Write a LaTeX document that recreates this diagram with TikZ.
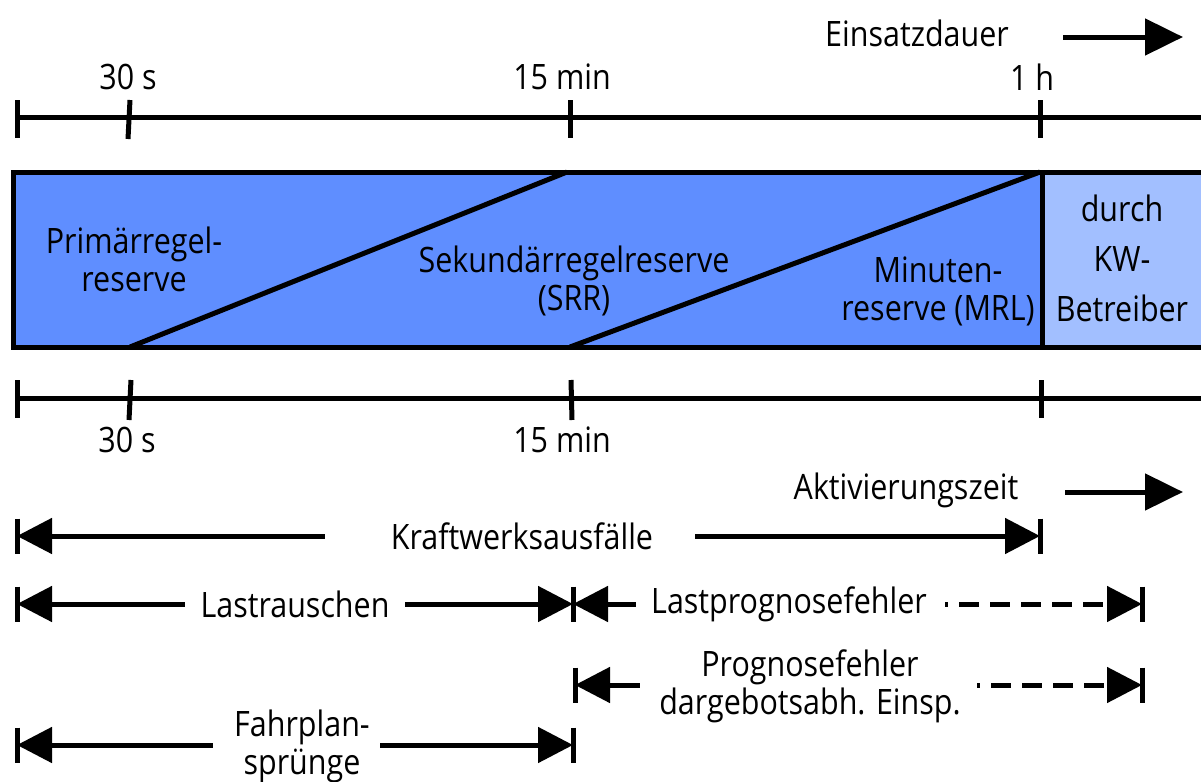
\documentclass[tikz,border=0pt]{standalone}
\usepackage{fontspec}
\setmainfont{Open Sans}[FakeStretch=0.87]
\usetikzlibrary{arrows.meta}
\definecolor{dblue}{HTML}{5F8EFF}
\definecolor{lblue}{HTML}{A2BFFF}
\begin{document}
\begin{tikzpicture}[x=0.5pt,y=-0.5pt,line width=2.5pt,line cap=butt,
  font=\fontsize{17.5pt}{19pt}\selectfont,
  lbl/.style={inner sep=0pt,align=center},
  tipr/.style={-{Triangle[length=17.5pt,width=17.5pt]}},
  tipl/.style={{Triangle[length=17.5pt,width=17.5pt]}-},
  bigtip/.style={-{Triangle[length=19pt,width=18pt]}},
  dashy/.style={dash pattern=on 10pt off 5.5pt,dash phase=8.5pt}]
\useasboundingbox (0,0) rectangle (1201,782);
% headline
\node[lbl] (einsatz) at (917,33) {Einsatzdauer};
\coordinate (e1) at (1063,37); \coordinate (e2) at (1183,37);
\draw[bigtip] (e1) -- (e2);
% top axis
\node[lbl] (t30) at (128,77) {30 s};
\node[lbl] (t15) at (562,77) {15 min};
\node[lbl] (t1h) at (1032,77) {1 h};
\draw (17,117) -- (1205,117);
\draw (17,100) -- (17,138);
\draw (130,100) -- (128,139);
\draw (570,100) -- (570,138);
\draw (1040,100) -- (1040,138);
% box
\fill[dblue] (13,172) rectangle (1042,347);
\fill[lblue] (1042,172) rectangle (1210,347);
\draw (1210,172) -- (13,172) -- (13,347) -- (1210,347);
\draw (1042,172) -- (1042,347);
\draw (130,347) -- (567,172);
\draw (570,347) -- (1040,172);
\node[lbl] (prr) at (134,259) {Primärregel-\\reserve};
\node[lbl] (srr) at (574,281) {Sekundärregelreserve\\(SRR)};
\node[lbl] (mrl) at (938,291) {Minuten-\\reserve (MRL)};
\node[lbl] (kw) at (1122,258) {durch\\[6pt]KW-\\[6pt]Betreiber};
% bottom axis
\draw (17,398) -- (1205,398);
\draw (17,380) -- (17,418);
\draw (131,380) -- (129,420);
\draw (571,380) -- (572,420);
\draw (1041,380) -- (1041,418);
\node[lbl] (b30) at (127,440) {30 s};
\node[lbl] (b15) at (562,440) {15 min};
% Aktivierungszeit
\node[lbl] (akt) at (906,490) {Aktivierungszeit};
\coordinate (a1) at (1065,492); \coordinate (a2) at (1183,492);
\draw[bigtip] (a1) -- (a2);
% Kraftwerksausfaelle
\node[lbl] (kwa) at (522,536) {Kraftwerksausfälle};
\coordinate (k0) at (17,536); \coordinate (k1) at (325,536);
\coordinate (k2) at (695,536); \coordinate (k3) at (1040,536);
\draw[tipl] (k0) -- (k1);
\draw[tipr] (k2) -- (k3);
\draw (17,518.5) -- (17,553.5);
\draw (1040,518.5) -- (1040,553.5);
% Lastrauschen
\node[lbl] (lr) at (295,604) {Lastrauschen};
\coordinate (l0) at (17,604); \coordinate (l1) at (185,604);
\coordinate (l2) at (405,604); \coordinate (l3) at (573,604);
\draw[tipl] (l0) -- (l1);
\draw[tipr] (l2) -- (l3);
\draw (17,586.5) -- (17,621.5);
\draw (573,586.5) -- (573,621.5);
% Lastprognosefehler
\node[lbl] (lp) at (789,604) {Lastprognosefehler};
\coordinate (p0) at (573,604); \coordinate (p1) at (636,604);
\coordinate (p2) at (945,604); \coordinate (p3) at (1142,604);
\draw[tipl] (p0) -- (p1);
\draw[tipr,dashy] (p2) -- (p3);
\draw (1142,586.5) -- (1142,621.5);
% Prognosefehler dargebotsabh.
\node[lbl] (pf) at (810,686) {Prognosefehler\\dargebotsabh. Einsp.};
\coordinate (q0) at (575,685); \coordinate (q1) at (640,685);
\coordinate (q2) at (977,685); \coordinate (q3) at (1142,685);
\draw[tipl] (q0) -- (q1);
\draw[tipr,dashy] (q2) -- (q3);
\draw (575,667.5) -- (575,702.5);
\draw (1142,667.5) -- (1142,702.5);
% Fahrplanspruenge
\node[lbl] (fp) at (302,746) {Fahrplan-\\sprünge};
\coordinate (f0) at (17,745); \coordinate (f1) at (213,745);
\coordinate (f2) at (380,745); \coordinate (f3) at (573,745);
\draw[tipl] (f0) -- (f1);
\draw[tipr] (f2) -- (f3);
\draw (17,727.5) -- (17,762.5);
\draw (573,727.5) -- (573,762.5);
\end{tikzpicture}
\end{document}
